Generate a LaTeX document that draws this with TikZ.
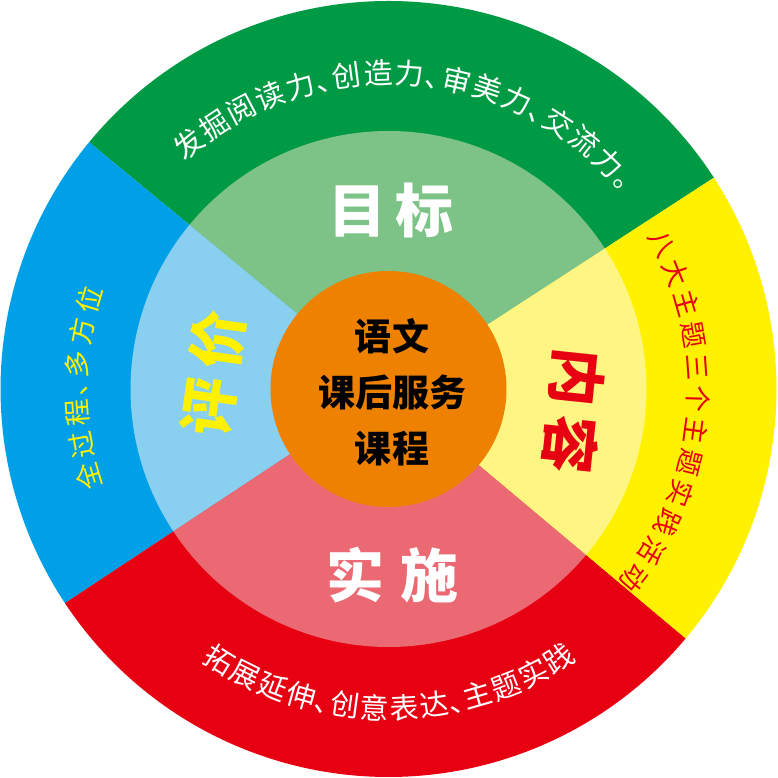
\documentclass[tikz,border=0pt]{standalone}
\usepackage{fontspec}
\newfontfamily\cjk{Noto Sans CJK SC}
\definecolor{gD}{RGB}{0,153,68}
\definecolor{gL}{RGB}{125,195,135}
\definecolor{bD}{RGB}{0,160,233}
\definecolor{bL}{RGB}{137,207,240}
\definecolor{rD}{RGB}{230,0,18}
\definecolor{rL}{RGB}{235,105,115}
\definecolor{yD}{RGB}{255,241,0}
\definecolor{yL}{RGB}{255,245,130}
\definecolor{oC}{RGB}{238,130,0}
\newcommand\dunhao{､}
% #1 name prefix, #2 radius, #3 start edge angle, #4 step (deg per unit), #5 rotation offset, #6 style, #7 list
\newcommand\arcwrite[7]{%
  \xdef\arcacc{#3}%
  \foreach \ch/\w [count=\i] in {#7} {%
    \pgfmathsetmacro\ang{\arcacc+(#4)*\w/2}%
    \pgfmathsetmacro\rot{\ang+(#5)}%
    \node[#6, rotate=\rot] (#1\i) at (\ang:#2) {\ch};%
    \pgfmathsetmacro\nxt{\arcacc+(#4)*\w}%
    \xdef\arcacc{\nxt}%
  }}
\begin{document}
\begin{tikzpicture}[x=1pt,y=1pt,
  arcbase/.style={inner sep=0pt, anchor=center},
  greentext/.style={arcbase, font=\cjk\fontsize{29}{29}\selectfont, text=white, text height=25.5pt, text depth=3.5pt},
  redtext/.style={arcbase, font=\cjk\fontsize{29}{29}\selectfont, text=white, text height=25.5pt, text depth=3.5pt},
  yellowtext/.style={arcbase, font=\cjk\fontsize{26.5}{26.5}\selectfont, text=rD, text height=23.3pt, text depth=3.2pt},
  bluetext/.style={arcbase, font=\cjk\fontsize{27}{27}\selectfont, text=yD, text height=23.8pt, text depth=3.2pt},
  bigword/.style={inner sep=0pt, font=\cjk\bfseries\fontsize{58}{58}\selectfont},
  centertext/.style={inner sep=0pt, align=center, text=black, font=\cjk\bfseries\fontsize{37}{56}\selectfont}]
\useasboundingbox (-388.5,-389) rectangle (388.5,389);
\def\Rout{388}
\def\Rmid{258}
\def\Rin{118}
% outer sectors
\fill[gD] (0,0) -- (33:\Rout) arc[start angle=33, end angle=140.5, radius=\Rout] -- cycle;
\fill[bD] (0,0) -- (140.5:\Rout) arc[start angle=140.5, end angle=213.5, radius=\Rout] -- cycle;
\fill[rD] (0,0) -- (213.5:\Rout) arc[start angle=213.5, end angle=320, radius=\Rout] -- cycle;
\fill[yD] (0,0) -- (-40:\Rout) arc[start angle=-40, end angle=33, radius=\Rout] -- cycle;
% middle sectors
\fill[gL] (0,0) -- (33:\Rmid) arc[start angle=33, end angle=140.5, radius=\Rmid] -- cycle;
\fill[bL] (0,0) -- (140.5:\Rmid) arc[start angle=140.5, end angle=213.5, radius=\Rmid] -- cycle;
\fill[rL] (0,0) -- (213.5:\Rmid) arc[start angle=213.5, end angle=320, radius=\Rmid] -- cycle;
\fill[yL] (0,0) -- (-40:\Rmid) arc[start angle=-40, end angle=33, radius=\Rmid] -- cycle;
% center
\fill[oC] (0,0) circle[radius=\Rin];
\node[centertext] (center) at (3.5,-3) {语文\\课后服务\\课程};
% sector titles
\node[bigword, text=white] (mubiao) at (2.5,179) {目\hspace{10pt}标};
\node[bigword, text=white] (shishi) at (4,-186) {实\hspace{17pt}施};
\node[bigword, text=rD, rotate=-96] (neirong) at (186,-22) {内\hspace{10pt}容};
\node[bigword, text=yD, rotate=82] (pingjia) at (-175,15.5) {评\hspace{10pt}价};
% arc texts
\arcwrite{g}{316}{132.1}{-5.75}{-90}{greentext}{发/1,掘/1,阅/1,读/1,力/1,\dunhao/0.5,创/1,造/1,力/1,\dunhao/0.5,审/1,美/1,力/1,\dunhao/0.5,交/1,流/1,力/1,。/1}
\arcwrite{r}{319}{235.4}{5.35}{90}{redtext}{拓/1,展/1,延/1,伸/1,\dunhao/0.5,创/1,意/1,表/1,达/1,\dunhao/0.5,主/1,题/1,实/1,践/1}
\arcwrite{y}{310}{30.9}{-5.95}{-90}{yellowtext}{八/1,大/1,主/1,题/1,三/1,个/1,主/1,题/1,实/1,践/1,活/1,动/1}
\arcwrite{b}{312}{199.3}{-5.98}{-90}{bluetext}{全/1,过/1,程/1,\dunhao/0.5,多/1,方/1,位/1}
\end{tikzpicture}
\end{document}
